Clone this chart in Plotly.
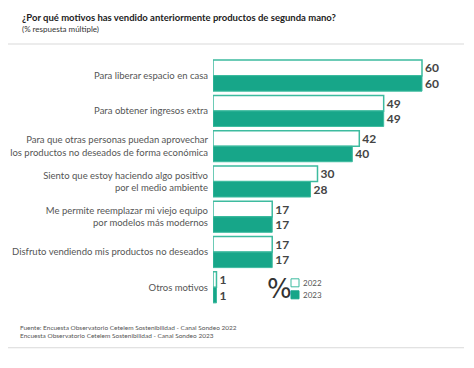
import plotly.graph_objects as go

categories = [
    "Para liberar espacio en casa",
    "Para obtener ingresos extra",
    "Para que otras personas puedan aprovechar<br>los productos no deseados de forma económica",
    "Siento que estoy haciendo algo positivo<br>por el medio ambiente",
    "Me permite reemplazar mi viejo equipo<br>por modelos más modernos",
    "Disfruto vendiendo mis productos no deseados",
    "Otros motivos",
]
values_2022 = [60, 49, 42, 30, 17, 17, 1]
values_2023 = [60, 49, 40, 28, 17, 17, 1]
series_names = ["2022", "2023"]

TEAL = "#17a689"
OUTLINE = "#3dbb9f"
FONT = "Lato, sans-serif"

fig = go.Figure()
fig.add_trace(go.Bar(
    y=categories, x=values_2022, name=series_names[0], orientation="h",
    marker=dict(color="white", line=dict(color=OUTLINE, width=1.5)),
    text=[str(v) for v in values_2022], textposition="outside",
    textfont=dict(family=FONT, size=12, color="#444444", weight="bold"),
    constraintext="none", cliponaxis=False,
))
fig.add_trace(go.Bar(
    y=categories, x=values_2023, name=series_names[1], orientation="h",
    marker=dict(color=TEAL, line=dict(color=OUTLINE, width=1)),
    text=[str(v) for v in values_2023], textposition="outside",
    textfont=dict(family=FONT, size=12, color="#444444", weight="bold"),
    constraintext="none", cliponaxis=False,
))

# page body has an 8px margin: work in screenshot coordinates and subtract it
OFF = 8
W, H = 474 - OFF, 368 - OFF
left = 213 - OFF
right = 0
top = 58 - OFF
bottom = 368 - 305.2
px_per_unit = 209 / 60
xmax = (W - left - right) / px_per_unit

fig.update_layout(
    width=W, height=H,
    margin=dict(l=left, r=right, t=top, b=bottom, autoexpand=False),
    barmode="group", bargap=0.12, bargroupgap=0,
    plot_bgcolor="white", paper_bgcolor="white",
    showlegend=False,
    font=dict(family=FONT, color="#555555"),
    xaxis=dict(range=[0, xmax], visible=False, fixedrange=True, automargin=False),
    yaxis=dict(range=[6.5, -0.5], showgrid=False, showline=False, zeroline=False,
               ticks="", ticklabelstandoff=4, automargin=False,
               tickfont=dict(family=FONT, size=9.5, color="#555555")),
)


def px_x(x):
    return (x - OFF - left) / (W - left - right)


def px_y(y):
    return (H - bottom - (y - OFF)) / (H - top - bottom)


shapes = [
    dict(type="line", xref="paper", yref="paper", x0=px_x(5), x1=px_x(464),
         y0=px_y(44), y1=px_y(44), line=dict(color="#d9d9d9", width=1)),
    dict(type="line", xref="paper", yref="paper", x0=px_x(5), x1=px_x(464),
         y0=px_y(348), y1=px_y(348), line=dict(color="#d9d9d9", width=1)),
    dict(type="rect", xref="paper", yref="paper",
         x0=px_x(291), x1=px_x(299), y0=px_y(287), y1=px_y(279),
         fillcolor="white", line=dict(color=OUTLINE, width=1)),
    dict(type="rect", xref="paper", yref="paper",
         x0=px_x(291), x1=px_x(299), y0=px_y(299), y1=px_y(291),
         fillcolor=TEAL, line=dict(color=TEAL, width=1)),
]

annotations = [
    dict(text="<b>¿Por qué motivos has vendido anteriormente productos de segunda mano?</b>",
         xref="paper", yref="paper", x=px_x(20), y=px_y(17), xanchor="left", yanchor="middle",
         showarrow=False, font=dict(family=FONT, size=9.5, color="#222222")),
    dict(text="(% respuesta múltiple)",
         xref="paper", yref="paper", x=px_x(20), y=px_y(29), xanchor="left", yanchor="middle",
         showarrow=False, font=dict(family=FONT, size=8, color="#333333")),
    dict(text="%", xref="paper", yref="paper", x=px_x(279), y=px_y(289),
         xanchor="center", yanchor="middle", showarrow=False,
         font=dict(family="DejaVu Sans, sans-serif", size=26, color="#333333")),
    dict(text=series_names[0], xref="paper", yref="paper", x=px_x(301), y=px_y(283),
         xanchor="left", yanchor="middle", showarrow=False,
         font=dict(family=FONT, size=8, color="#555555")),
    dict(text=series_names[1], xref="paper", yref="paper", x=px_x(301), y=px_y(295),
         xanchor="left", yanchor="middle", showarrow=False,
         font=dict(family=FONT, size=8, color="#555555")),
    dict(text="Fuente: Encuesta Observatorio Cetelem Sostenibilidad - Canal Sondeo 2022<br>"
              "Encuesta Observatorio Cetelem Sostenibilidad - Canal Sondeo 2023",
         xref="paper", yref="paper", x=px_x(18), y=px_y(332), xanchor="left", yanchor="middle",
         align="left", showarrow=False, font=dict(family=FONT, size=6.5, color="#555555")),
]

fig.update_layout(shapes=shapes, annotations=annotations)
fig.write_html("out.html")
